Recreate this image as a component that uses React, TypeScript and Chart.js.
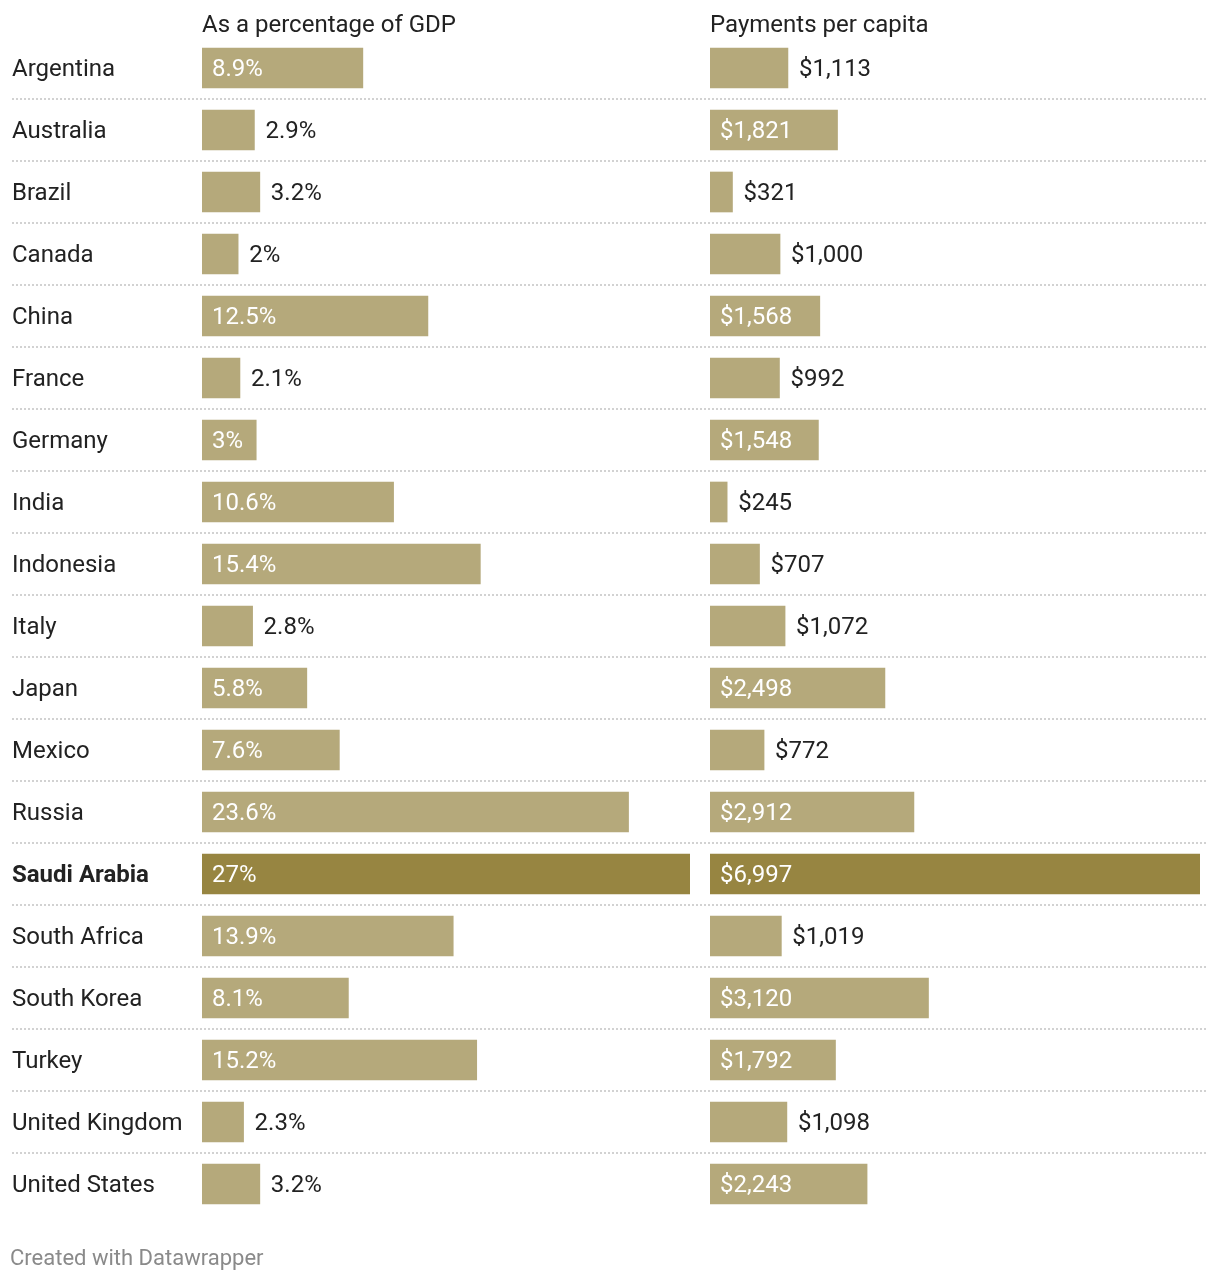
import React, { useEffect, useRef } from "react";
import { Chart, registerables } from "chart.js";

Chart.register(...registerables);

const countries = [
  "Argentina", "Australia", "Brazil", "Canada", "China", "France", "Germany", "India",
  "Indonesia", "Italy", "Japan", "Mexico", "Russia", "Saudi Arabia", "South Africa",
  "South Korea", "Turkey", "United Kingdom", "United States",
];
const gdpShare = [8.9, 2.9, 3.2, 2, 12.5, 2.1, 3, 10.6, 15.4, 2.8, 5.8, 7.6, 23.6, 27, 13.9, 8.1, 15.2, 2.3, 3.2];
const perCapita = [1113, 1821, 321, 1000, 1568, 992, 1548, 245, 707, 1072, 2498, 772, 2912, 6997, 1019, 3120, 1792, 1098, 2243];
const highlighted = "Saudi Arabia";
const leftTitle = "As a percentage of GDP";
const rightTitle = "Payments per capita";
const footer = "Created with Datawrapper";

const FONT = "Roboto, 'Noto Sans', sans-serif";
const LIGHT = "#b5a97b";
const DARK = "#978541";

const fmtPct = (v: number) => `${v}%`;
const fmtUsd = (v: number) => "$" + v.toLocaleString("en-US");

function makePlugin(opts: {
  title: string;
  fmt: (v: number) => string;
  lineFrom: number;
  lineTo: number;
  footer?: string;
  drawLabels: boolean;
}) {
  return {
    id: "custom",
    beforeDatasetsDraw(chart: any) {
      const ctx = chart.ctx;
      const y = chart.scales.y;
      ctx.save();
      ctx.strokeStyle = "#d2d2d2";
      ctx.lineWidth = 2;
      ctx.setLineDash([2, 2]);
      for (let i = 0; i < countries.length - 1; i++) {
        const yy = Math.round((y.getPixelForTick(i) + y.getPixelForTick(i + 1)) / 2);
        ctx.beginPath();
        ctx.moveTo(opts.lineFrom, yy);
        ctx.lineTo(opts.lineTo, yy);
        ctx.stroke();
      }
      ctx.restore();
    },
    afterDatasetsDraw(chart: any) {
      const ctx = chart.ctx;
      const y = chart.scales.y;
      const meta = chart.getDatasetMeta(0);
      const data = chart.data.datasets[0].data as number[];
      ctx.save();
      ctx.textBaseline = "middle";
      ctx.textAlign = "left";
      if (opts.drawLabels) {
        countries.forEach((c, i) => {
          ctx.font = `${c === highlighted ? "bold " : ""}24px ${FONT}`;
          ctx.fillStyle = "#222222";
          ctx.fillText(c, 12, y.getPixelForTick(i) + 2);
        });
      }
      ctx.font = `24px ${FONT}`;
      meta.data.forEach((bar: any, i: number) => {
        const text = opts.fmt(data[i]);
        const w = ctx.measureText(text).width;
        const barW = bar.x - bar.base;
        if (w + 20 <= barW) {
          ctx.fillStyle = "#ffffff";
          ctx.fillText(text, bar.base + 10, bar.y + 2);
        } else {
          ctx.fillStyle = "#222222";
          ctx.fillText(text, bar.x + 11, bar.y + 2);
        }
      });
      ctx.fillStyle = "#222222";
      ctx.fillText(opts.title, chart.chartArea.left, 26);
      if (opts.footer) {
        ctx.font = `22px ${FONT}`;
        ctx.fillStyle = "#8a8a8a";
        ctx.fillText(opts.footer, 10, 1259);
      }
      ctx.restore();
    },
  };
}

function BarPanel(props: {
  values: number[];
  max: number;
  left: number;
  width: number;
  showLabels: boolean;
  padding: { left: number; right: number };
  title: string;
  fmt: (v: number) => string;
  lineFrom: number;
  lineTo: number;
  footer?: string;
}) {
  const ref = useRef<HTMLCanvasElement>(null);
  useEffect(() => {
    const canvas = ref.current!;
    const chart = new Chart(canvas, {
      type: "bar",
      data: {
        labels: countries,
        datasets: [
          {
            data: props.values,
            backgroundColor: countries.map((c) => (c === highlighted ? DARK : LIGHT)),
            barThickness: 40,
            borderWidth: 0,
          },
        ],
      },
      options: {
        indexAxis: "y",
        responsive: false,
        animation: false,
        devicePixelRatio: 1,
        layout: {
          padding: {
            top: 37,
            bottom: 65,
            left: props.padding.left + (props.showLabels ? 190 : 0),
            right: props.padding.right,
          },
        },
        plugins: { legend: { display: false }, tooltip: { enabled: false }, title: { display: false } },
        scales: {
          x: { display: false, min: 0, max: props.max, grace: 0 },
          y: {
            display: false,
            offset: true,
          },
        },
      } as any,
      plugins: [
        makePlugin({
          title: props.title,
          fmt: props.fmt,
          lineFrom: props.lineFrom,
          lineTo: props.lineTo,
          footer: props.footer,
          drawLabels: props.showLabels,
        }),
      ],
    });
    return () => chart.destroy();
  }, []);
  return (
    <canvas
      ref={ref}
      width={props.width}
      height={1280}
      style={{ position: "absolute", left: props.left, top: 0, width: props.width, height: 1280 }}
    />
  );
}

export default function App() {
  return (
    <div style={{ position: "absolute", left: 0, top: 0, width: 1220, height: 1280, background: "#fff" }}>
      <BarPanel
        values={gdpShare}
        max={27}
        left={0}
        width={700}
        showLabels={true}
        padding={{ left: 12, right: 10 }}
        title={leftTitle}
        fmt={fmtPct}
        lineFrom={12}
        lineTo={700}
        footer={footer}
      />
      <BarPanel
        values={perCapita}
        max={6997}
        left={700}
        width={520}
        showLabels={false}
        padding={{ left: 10, right: 20 }}
        title={rightTitle}
        fmt={fmtUsd}
        lineFrom={0}
        lineTo={508}
      />
    </div>
  );
}
